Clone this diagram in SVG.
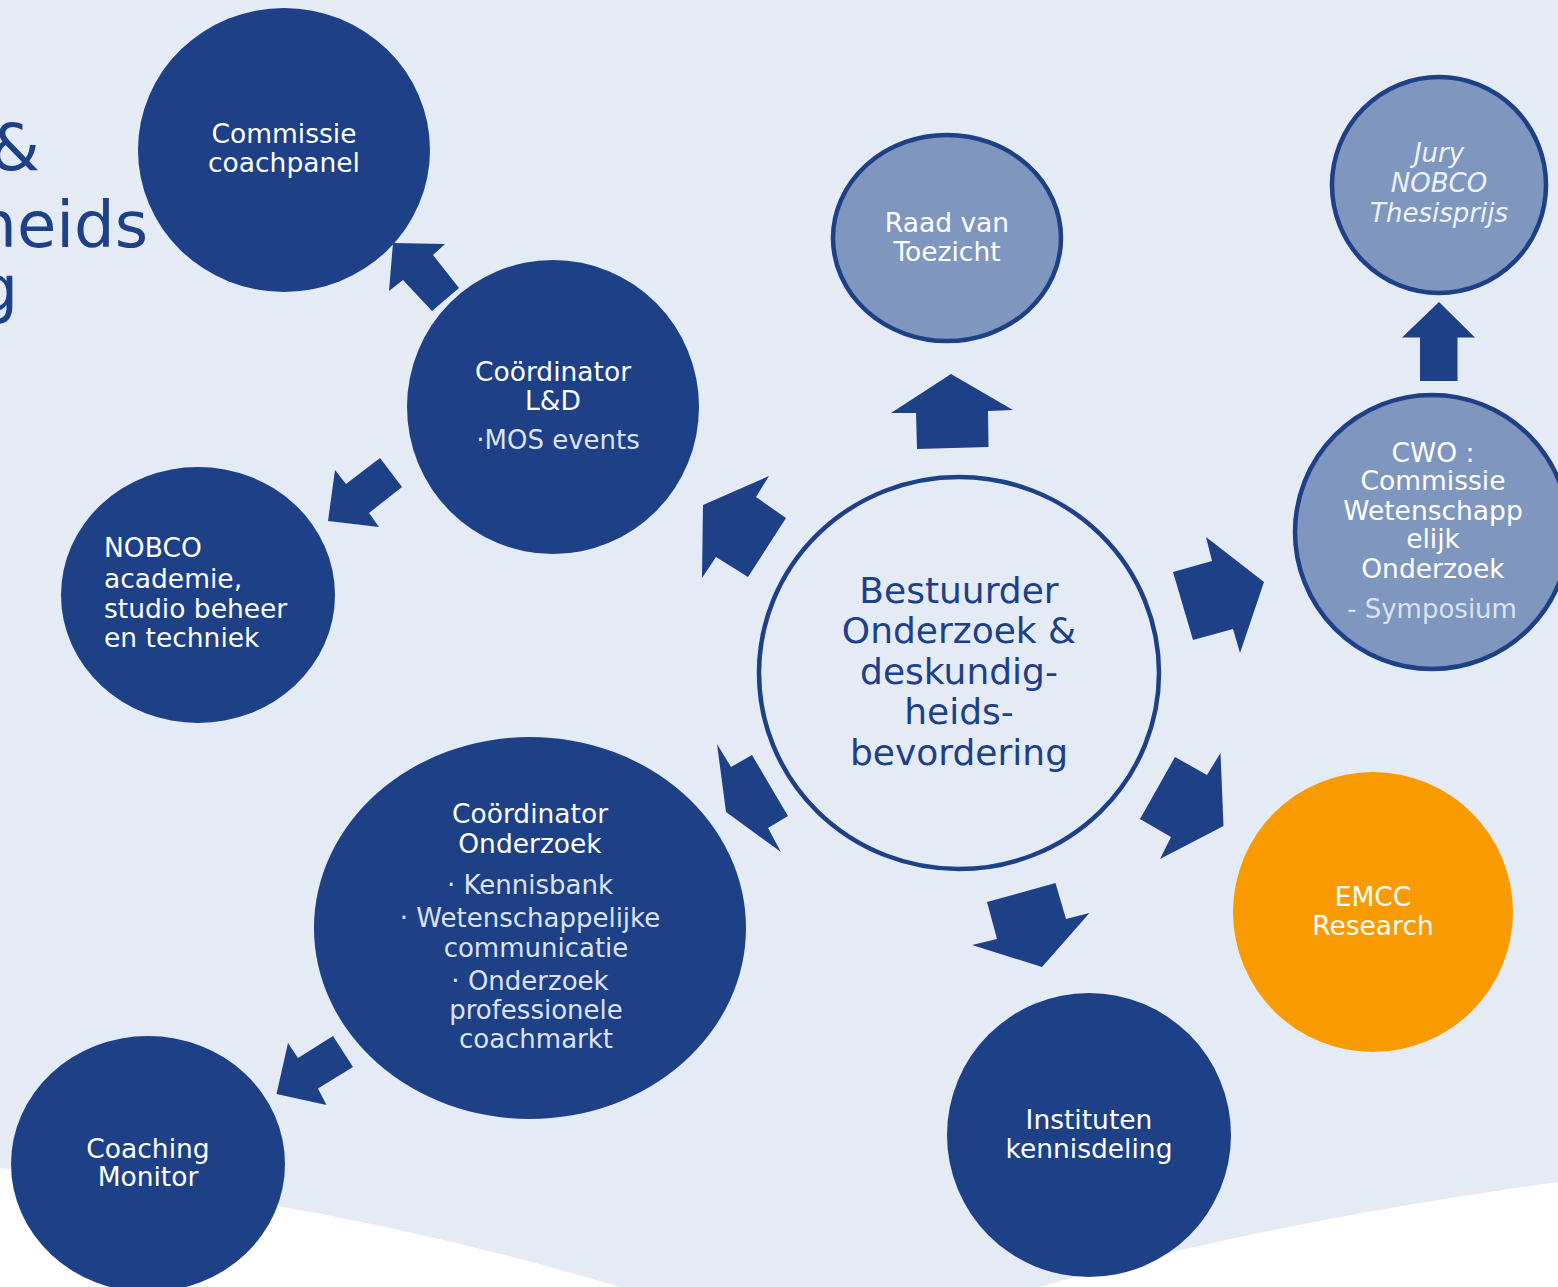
<svg xmlns="http://www.w3.org/2000/svg" width="1558" height="1287" viewBox="0 0 1558 1287">
<style>
.dark{fill:#1D4087}
.light{fill:#7F96BE;stroke:#1D4087;stroke-width:4.5}
.center{fill:#E4EBF4;stroke:#1D4087;stroke-width:4.5}
.orange{fill:#F99B00}
.arrow{fill:#1D4087}
text{font-family:"DejaVu Sans","Liberation Sans",sans-serif}
.lbl{font-size:26.5px;fill:#FFFFFF;text-anchor:middle}
.sub{font-size:26px;fill:#DCE3F0;text-anchor:middle}
.big{font-size:36px;fill:#1D4087;text-anchor:middle}
.side{font-size:64px;fill:#1D4087;text-anchor:end}
.ital{font-size:26px;fill:#EEF2F8;text-anchor:middle;font-style:italic}
</style>
<rect x="0" y="0" width="1558" height="1287" fill="#E4EBF4"/>
<path d="M0,1168 Q330,1200 620,1287 L0,1287 Z" fill="#FFFFFF"/>
<path d="M1558,1182 Q1250,1225 1040,1287 L1558,1287 Z" fill="#FFFFFF"/>
<g id="title-fragment">
<text class="side" x="40" y="170">&amp;</text>
<text class="side" x="148" y="247">heids</text>
<text class="side" x="18" y="311">g</text>
</g>
<g id="connectors">
<polygon class="arrow" points="951,374 891,413 916,413 917,449 988.5,447 988,411 1013,410"/>
<polygon class="arrow" points="703,505 769,476 756,497 786,518 748,577 716,557 702,578"/>
<polygon class="arrow" points="1206,537 1212,561 1173,572 1193,640 1233,629 1240,653 1264,582"/>
<polygon class="arrow" points="717,744 731,767 752,755 788,816 768,828 781,852 726,812"/>
<polygon class="arrow" points="1175,757 1207,775 1220.5,753 1223.5,826 1160,859 1171,837 1140,819"/>
<polygon class="arrow" points="987,902 1055.5,883 1066,919 1089.5,913 1042,967 972,945 997,939"/>
<polygon class="arrow" points="393,243 445,244 433,255 459,288 432,311 403,280 389,291"/>
<polygon class="arrow" points="380,458 402,487 369,513 379,527 328,521 335,470 346,484"/>
<polygon class="arrow" points="333,1036 353,1067 318,1088.5 326.5,1105 276.5,1094 288,1043 298,1058"/>
<polygon class="arrow" points="1439,302 1402,337.5 1420,337.5 1420,381 1457.5,381 1457.5,337.5 1475,337.5"/>
</g>
<g id="node-commissie-coachpanel">
<ellipse class="dark" cx="284" cy="150" rx="146" ry="142"/>
<text class="lbl" x="284" y="143">Commissie</text>
<text class="lbl" x="284" y="172">coachpanel</text>
</g>
<g id="node-coordinator-ld">
<ellipse class="dark" cx="553" cy="407" rx="146" ry="147"/>
<text class="lbl" x="553" y="381">Coördinator</text>
<text class="lbl" x="553" y="410">L&amp;D</text>
<text class="sub" x="558" y="449">·MOS events</text>
</g>
<g id="node-nobco-academie">
<ellipse class="dark" cx="198" cy="595" rx="137" ry="128"/>
<text class="lbl" x="104" y="557" style="text-anchor:start">NOBCO</text>
<text class="lbl" x="104" y="588" style="text-anchor:start">academie,</text>
<text class="lbl" x="104" y="618" style="text-anchor:start">studio beheer</text>
<text class="lbl" x="104" y="647" style="text-anchor:start">en techniek</text>
</g>
<g id="node-coordinator-onderzoek">
<ellipse class="dark" cx="530" cy="928" rx="216" ry="191"/>
<text class="lbl" x="530" y="823">Coördinator</text>
<text class="lbl" x="530" y="853">Onderzoek</text>
<text class="sub" x="530" y="894">· Kennisbank</text>
<text class="sub" x="530" y="927">· Wetenschappelijke</text>
<text class="sub" x="536" y="957">communicatie</text>
<text class="sub" x="530" y="990">· Onderzoek</text>
<text class="sub" x="536" y="1019">professionele</text>
<text class="sub" x="536" y="1048">coachmarkt</text>
</g>
<g id="node-coaching-monitor">
<ellipse class="dark" cx="148" cy="1164" rx="137" ry="128"/>
<text class="lbl" x="148" y="1158">Coaching</text>
<text class="lbl" x="148" y="1186">Monitor</text>
</g>
<g id="node-raad-van-toezicht">
<ellipse class="light" cx="947" cy="238" rx="114" ry="103"/>
<text class="lbl" x="947" y="232">Raad van</text>
<text class="lbl" x="947" y="261">Toezicht</text>
</g>
<g id="node-jury">
<ellipse class="light" cx="1439" cy="185" rx="107" ry="108"/>
<text class="ital" x="1439" y="162">Jury</text>
<text class="ital" x="1439" y="192">NOBCO</text>
<text class="ital" x="1439" y="222">Thesisprijs</text>
</g>
<g id="node-cwo">
<ellipse class="light" cx="1432" cy="532" rx="137" ry="137"/>
<text class="lbl" x="1433" y="462">CWO :</text>
<text class="lbl" x="1433" y="490">Commissie</text>
<text class="lbl" x="1433" y="520">Wetenschapp</text>
<text class="lbl" x="1433" y="548">elijk</text>
<text class="lbl" x="1433" y="578">Onderzoek</text>
<text class="sub" x="1432" y="618">- Symposium</text>
</g>
<g id="node-bestuurder">
<ellipse class="center" cx="959" cy="673" rx="200" ry="196"/>
<text class="big" x="959" y="603">Bestuurder</text>
<text class="big" x="959" y="643">Onderzoek &amp;</text>
<text class="big" x="959" y="684">deskundig-</text>
<text class="big" x="959" y="724">heids-</text>
<text class="big" x="959" y="765">bevordering</text>
</g>
<g id="node-emcc">
<ellipse class="orange" cx="1373" cy="912" rx="140" ry="140"/>
<text class="lbl" x="1373" y="906">EMCC</text>
<text class="lbl" x="1373" y="935">Research</text>
</g>
<g id="node-instituten">
<ellipse class="dark" cx="1089" cy="1135" rx="142" ry="142"/>
<text class="lbl" x="1089" y="1129">Instituten</text>
<text class="lbl" x="1089" y="1158">kennisdeling</text>
</g>
</svg>
